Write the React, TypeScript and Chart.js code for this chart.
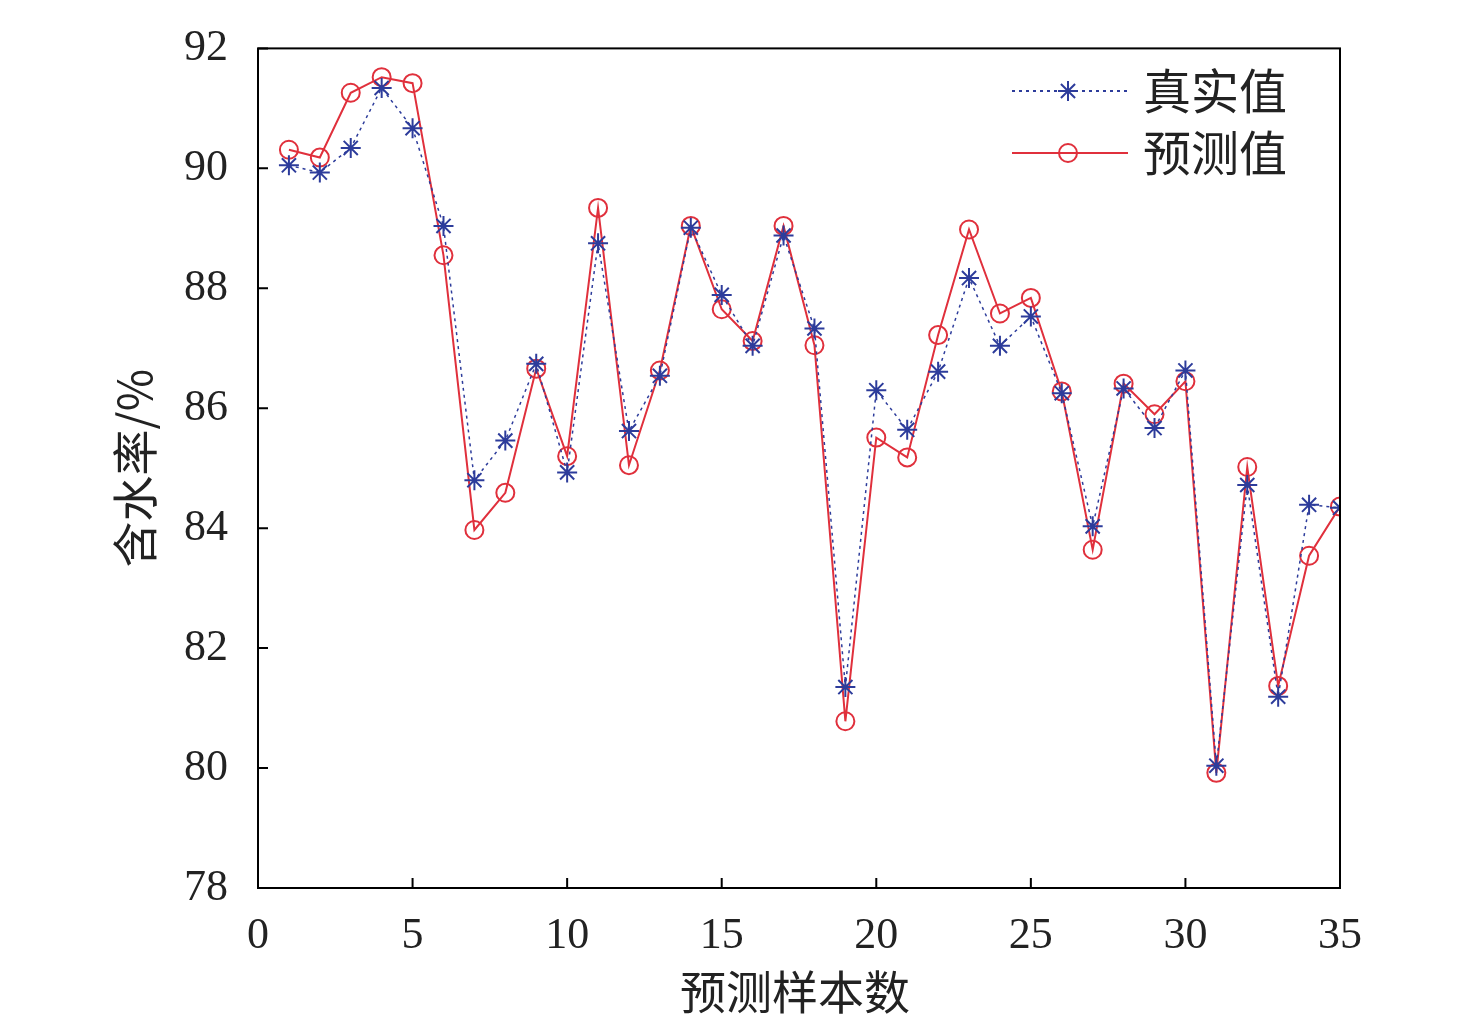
import React, { useEffect, useRef } from "react";
import { Chart, registerables } from "chart.js";
Chart.register(...registerables);

const samples = Array.from({ length: 35 }, (_, i) => i + 1);
const trueValues = [90.05, 89.93, 90.34, 91.34, 90.67, 89.04, 84.8, 85.46, 86.74, 84.93, 88.75, 85.62, 86.54, 89.01, 87.89, 87.04, 88.88, 87.33, 81.35, 86.3, 85.64, 86.61, 88.17, 87.04, 87.53, 86.25, 84.03, 86.33, 85.67, 86.63, 80.04, 84.72, 81.19, 84.39, 84.34];
const predValues = [90.31, 90.18, 91.26, 91.52, 91.42, 88.55, 83.97, 84.59, 86.66, 85.2, 89.34, 85.05, 86.63, 89.04, 87.65, 87.12, 89.04, 87.05, 80.78, 85.51, 85.18, 87.22, 88.98, 87.58, 87.84, 86.28, 83.64, 86.41, 85.9, 86.45, 79.92, 85.02, 81.37, 83.54, 84.36];
const xTicks = [0, 5, 10, 15, 20, 25, 30, 35];
const yTicks = [78, 80, 82, 84, 86, 88, 90, 92];
const labels = ["真实值", "预测值"];
const BLUE = "#2d3c9b";
const RED = "#e0303c";
const CJK = "'Noto Sans CJK SC'";
const SERIF = "'Liberation Serif', 'Times New Roman', serif";

function drawMarker(ctx: CanvasRenderingContext2D, style: string, x: number, y: number, r: number) {
  ctx.beginPath();
  if (style === "circle") {
    ctx.arc(x, y, r, 0, Math.PI * 2);
  } else {
    for (let k = 0; k < 4; k++) {
      const ang = (k * Math.PI) / 4;
      const dx = Math.cos(ang) * r, dy = Math.sin(ang) * r;
      ctx.moveTo(x - dx, y - dy); ctx.lineTo(x + dx, y + dy);
    }
  }
  ctx.stroke();
}

const framePlugin = {
  id: "frame",
  afterDraw(chart: any) {
    const { ctx, chartArea: a, scales } = chart;
    ctx.save();
    ctx.strokeStyle = "#000";
    ctx.lineWidth = 2;
    ctx.strokeRect(a.left, a.top, a.right - a.left, a.bottom - a.top);
    ctx.beginPath();
    for (const v of xTicks) {
      const x = scales.x.getPixelForValue(v);
      ctx.moveTo(x, a.bottom); ctx.lineTo(x, a.bottom - 10);
    }
    for (const v of yTicks) {
      const y = scales.y.getPixelForValue(v);
      ctx.moveTo(a.left, y); ctx.lineTo(a.left + 10, y);
    }
    ctx.stroke();
    ctx.fillStyle = "#222";
    ctx.font = `46px ${CJK}`;
    ctx.textAlign = "center";
    ctx.textBaseline = "middle";
    ctx.fillText("预测样本数", (a.left + a.right) / 2 - 4, 992);
    ctx.save();
    ctx.translate(135, (a.top + a.bottom) / 2);
    ctx.rotate(-Math.PI / 2);
    ctx.fillText("含水率/%", 0, 0);
    ctx.restore();
    const rows = [
      { y: 91, color: BLUE, dash: [3, 4], style: "star" },
      { y: 153, color: RED, dash: [], style: "circle" },
    ];
    rows.forEach((r, i) => {
      ctx.save();
      ctx.strokeStyle = r.color;
      ctx.lineWidth = 2;
      ctx.setLineDash(r.dash);
      ctx.beginPath();
      ctx.moveTo(1012, r.y); ctx.lineTo(1128, r.y);
      ctx.stroke();
      ctx.setLineDash([]);
      drawMarker(ctx, r.style, 1068, r.y, r.style === "circle" ? 9 : 10);
      ctx.restore();
      ctx.fillStyle = "#222";
      ctx.font = `48px ${CJK}`;
      ctx.textAlign = "left";
      ctx.fillText(labels[i], 1143, r.y);
    });
    ctx.restore();
  },
};

export default function App() {
  const ref = useRef<HTMLCanvasElement>(null);
  useEffect(() => {
    const chart = new Chart(ref.current!, {
      type: "line",
      data: {
        datasets: [
          {
            data: samples.map((x, i) => ({ x, y: trueValues[i] })),
            borderColor: BLUE, borderWidth: 1.5, borderDash: [3, 4],
            pointStyle: "star", pointRadius: 10, pointBorderColor: BLUE, pointBorderWidth: 2,
            pointBackgroundColor: BLUE,
          },
          {
            data: samples.map((x, i) => ({ x, y: predValues[i] })),
            borderColor: RED, borderWidth: 2,
            pointStyle: "circle", pointRadius: 9, pointBorderColor: RED, pointBorderWidth: 2,
            pointBackgroundColor: "rgba(255,255,255,0)",
          },
        ],
      },
      plugins: [framePlugin],
      options: {
        responsive: false, animation: false,
        layout: { padding: { top: 36, right: 136, left: 0, bottom: 0 } },
        plugins: { legend: { display: false }, tooltip: { enabled: false } },
        scales: {
          x: {
            type: "linear", min: 0, max: 35,
            afterFit: (s: any) => { s.height = 144; },
            afterBuildTicks: (s: any) => { s.ticks = xTicks.map((v) => ({ value: v })); },
            grid: { display: false }, border: { display: false },
            ticks: { color: "#222", font: { family: SERIF, size: 44 }, padding: 14, maxRotation: 0 },
          },
          y: {
            min: 78, max: 92,
            afterFit: (s: any) => { s.width = 258; },
            afterBuildTicks: (s: any) => { s.ticks = yTicks.map((v) => ({ value: v })); },
            grid: { display: false }, border: { display: false },
            ticks: { color: "#222", font: { family: SERIF, size: 44 }, padding: 22 },
          },
        },
      },
    } as any);
    return () => chart.destroy();
  }, []);
  return (
    <canvas ref={ref} width={1476} height={1032}
      style={{ position: "fixed", left: 0, top: 0, width: 1476, height: 1032, background: "white" }} />
  );
}
